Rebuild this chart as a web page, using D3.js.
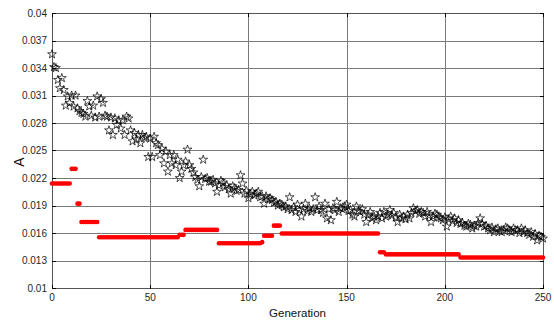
<!DOCTYPE html>
<html>
<head>
<meta charset="utf-8">
<script src="https://cdn.jsdelivr.net/npm/d3@7"></script>
<style>
body { margin: 0; background: #fff; }
text { font-family: "Liberation Sans", Arial, sans-serif; }
</style>
</head>
<body>
<script>
// black stars: A value per generation (0..250)
var starValues = [
 0.0355,0.0341,0.0340,0.0327,0.0318,0.0329,0.0316,0.0299,0.0309,0.0302,
 0.0310,0.0298,0.0310,0.0296,0.0293,0.0291,0.0290,0.0287,0.0304,0.0298,
 0.0288,0.0299,0.0286,0.0309,0.0287,0.0306,0.0302,0.0288,0.0287,0.0272,
 0.0286,0.0267,0.0285,0.0278,0.0283,0.0274,0.0283,0.0267,0.0287,0.0285,
 0.0272,0.0260,0.0269,0.0262,0.0267,0.0258,0.0267,0.0264,0.0265,0.0243,
 0.0263,0.0243,0.0265,0.0258,0.0256,0.0245,0.0252,0.0236,0.0249,0.0227,
 0.0245,0.0236,0.0245,0.0234,0.0240,0.0220,0.0227,0.0234,0.0238,0.0251,
 0.0234,0.0230,0.0226,0.0221,0.0218,0.0211,0.0221,0.0240,0.0219,0.0220,
 0.0216,0.0216,0.0218,0.0214,0.0205,0.0212,0.0217,0.0215,0.0210,0.0212,
 0.0208,0.0203,0.0211,0.0209,0.0206,0.0207,0.0223,0.0214,0.0203,0.0206,
 0.0198,0.0202,0.0205,0.0201,0.0203,0.0205,0.0199,0.0200,0.0192,0.0200,
 0.0197,0.0198,0.0196,0.0193,0.0194,0.0190,0.0192,0.0191,0.0188,0.0189,
 0.0186,0.0199,0.0185,0.0188,0.0183,0.0191,0.0185,0.0178,0.0186,0.0192,
 0.0184,0.0187,0.0183,0.0186,0.0199,0.0185,0.0189,0.0185,0.0182,0.0192,
 0.0176,0.0186,0.0174,0.0187,0.0185,0.0194,0.0183,0.0187,0.0186,0.0189,
 0.0191,0.0184,0.0185,0.0180,0.0178,0.0189,0.0184,0.0183,0.0186,0.0180,
 0.0172,0.0180,0.0183,0.0176,0.0178,0.0174,0.0178,0.0182,0.0176,0.0183,
 0.0178,0.0180,0.0185,0.0179,0.0182,0.0177,0.0172,0.0180,0.0176,0.0178,
 0.0175,0.0180,0.0176,0.0182,0.0187,0.0184,0.0185,0.0181,0.0183,0.0182,
 0.0178,0.0183,0.0179,0.0172,0.0178,0.0181,0.0180,0.0177,0.0176,0.0174,
 0.0177,0.0167,0.0175,0.0178,0.0173,0.0176,0.0171,0.0174,0.0170,0.0171,
 0.0168,0.0167,0.0170,0.0169,0.0165,0.0168,0.0167,0.0171,0.0176,0.0170,
 0.0167,0.0168,0.0165,0.0163,0.0166,0.0161,0.0164,0.0165,0.0162,0.0161,
 0.0163,0.0166,0.0165,0.0162,0.0161,0.0165,0.0163,0.0163,0.0160,0.0165,
 0.0161,0.0163,0.0160,0.0158,0.0161,0.0156,0.0159,0.0152,0.0157,0.0156,
 0.0154
];

// red dots: constant runs of generations
var redStart = [0, 10, 13, 15, 24, 65, 68, 85, 107, 108, 113, 117, 167, 170, 208];
var redEnd   = [9, 12, 14, 23, 64, 67, 84, 106, 107, 112, 116, 166, 169, 207, 250];
var redValue = [0.0214, 0.0230, 0.0192, 0.0172, 0.01553, 0.0158, 0.01634, 0.01488, 0.0150,
                0.0157, 0.0168, 0.01595, 0.0139, 0.01367, 0.01333];

var xTicks = [0, 50, 100, 150, 200, 250];
var yTicks = [0.01, 0.013, 0.016, 0.019, 0.022, 0.025, 0.028, 0.031, 0.034, 0.037, 0.04];
var yTickLabels = ['0.01','0.013','0.016','0.019','0.022','0.025','0.028','0.031','0.034','0.037','0.04'];

var plotL = 52, plotR = 543, plotT = 13, plotB = 288;

var x = d3.scaleLinear().domain([0, 250]).range([plotL, plotR]);
var y = d3.scaleLinear().domain([0.01, 0.04]).range([plotB, plotT]);

var svg = d3.select("body").append("svg").attr('width', 554).attr('height', 322);

var stars = starValues.map(function (d, i) { return {g: i, v: d}; });
var reds = [];
redStart.forEach(function (s, k) {
  for (var g = s; g <= redEnd[k]; g++) reds.push({g: g, v: redValue[k]});
});

// grid
svg.append("g").selectAll("line")
  .data(yTicks)
  .enter().append("line")
    .attr('x1', plotL).attr('x2', plotR)
    .attr('y1', function (d) { return Math.round(y(d)) + 0.5; })
    .attr('y2', function (d) { return Math.round(y(d)) + 0.5; })
    .attr('stroke', '#7a7a7a').attr('stroke-width', 1);

svg.append("g").selectAll("line")
  .data(xTicks)
  .enter().append("line")
    .attr('y1', plotT).attr('y2', plotB)
    .attr('x1', function (d) { return Math.round(x(d)) + 0.5; })
    .attr('x2', function (d) { return Math.round(x(d)) + 0.5; })
    .attr('stroke', '#7a7a7a').attr('stroke-width', 1);

// frame
svg.append("rect")
  .attr('x', plotL + 0.5).attr('y', plotT + 0.5)
  .attr('width', plotR - plotL).attr('height', plotB - plotT)
  .attr('fill', 'none').attr('stroke', '#555').attr('stroke-width', 1);

// inward ticks
var tk = svg.append("g").attr('stroke', '#000').attr('stroke-width', 1);
yTicks.forEach(function (d) {
  var yy = Math.round(y(d)) + 0.5;
  tk.append("line").attr('x1', plotL).attr('x2', plotL + 4).attr('y1', yy).attr('y2', yy);
  tk.append("line").attr('x1', plotR - 3).attr('x2', plotR + 1).attr('y1', yy).attr('y2', yy);
});
xTicks.forEach(function (d) {
  var xx = Math.round(x(d)) + 0.5;
  tk.append("line").attr('x1', xx).attr('x2', xx).attr('y1', plotB + 1).attr('y2', plotB - 3);
  tk.append("line").attr('x1', xx).attr('x2', xx).attr('y1', plotT).attr('y2', plotT + 4);
});

// tick labels
svg.append("g").selectAll("text")
  .data(yTicks)
  .enter().append("text")
    .attr('x', plotL - 5)
    .attr('y', function (d) { return y(d); })
    .attr('dy', '0.35em')
    .attr('text-anchor', 'end')
    .attr('font-size', 10)
    .attr('fill', '#262626')
    .text(function (d, i) { return yTickLabels[i]; });

svg.append("g").selectAll("text")
  .data(xTicks)
  .enter().append("text")
    .attr('x', function (d) { return x(d); })
    .attr('y', 301)
    .attr('text-anchor', 'middle')
    .attr('font-size', 10)
    .attr('fill', '#262626')
    .text(function (d) { return d; });

// axis labels
svg.append("text")
  .attr('x', (plotL + plotR) / 2).attr('y', 317)
  .attr('text-anchor', 'middle')
  .attr('font-size', 11.5)
  .attr('fill', '#111')
  .text('Generation');

svg.append("text")
  .attr('transform', 'translate(24,162) rotate(-90)')
  .attr('text-anchor', 'middle')
  .attr('font-size', 14)
  .attr('fill', '#111')
  .text('A');

// red dots
svg.append("g").selectAll("circle")
  .data(reds)
  .enter().append("circle")
    .attr('cx', function (d) { return x(d.g); })
    .attr('cy', function (d) { return y(d.v); })
    .attr('r', 2.3)
    .attr('fill', '#ff0000');

// black stars
var star = d3.symbol().type(d3.symbolStar).size(24);
svg.append("g").selectAll("path")
  .data(stars)
  .enter().append("path")
    .attr('d', star)
    .attr('transform', function (d) { return 'translate(' + x(d.g) + ',' + y(d.v) + ')'; })
    .attr('fill', 'none')
    .attr('stroke', '#000')
    .attr('stroke-width', 0.7);
</script>
</body>
</html>
